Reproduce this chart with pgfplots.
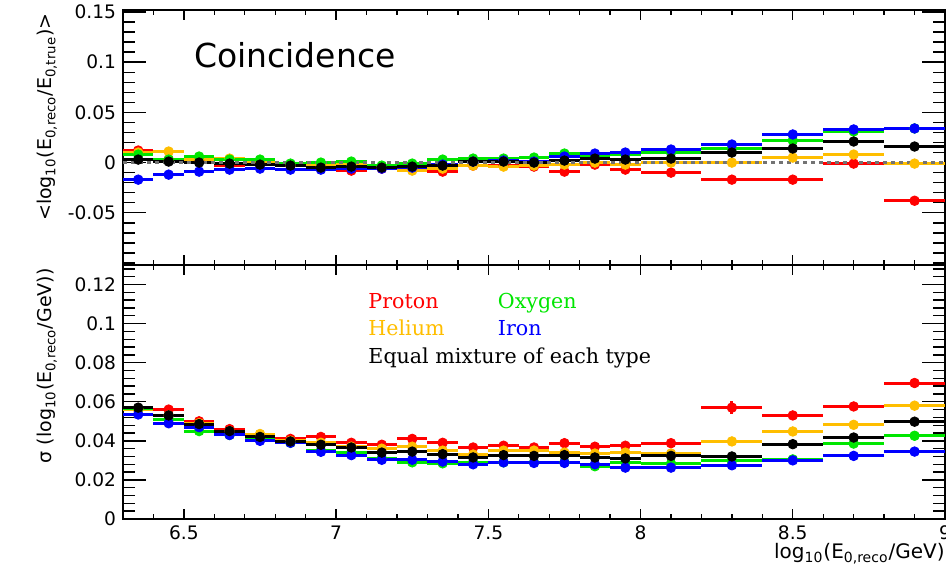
\documentclass[border=0pt]{standalone}
\usepackage{pgfplots}
\pgfplotsset{compat=1.18}
\usepackage{pgfplotstable}
\usepackage{fontspec}
\setmainfont{DejaVu Sans}
\newfontfamily\legfont{DejaVu Serif}
\definecolor{cP}{RGB}{255,0,0}
\definecolor{cHe}{RGB}{255,190,0}
\definecolor{cO}{RGB}{0,230,0}
\definecolor{cFe}{RGB}{0,0,255}

\pgfplotstableread{
x    ex   P      Pe     He     Hee    O      Oe     Fe     Fee    M      Me
6.35 0.05  0.012 0.001  0.010 0.001  0.008 0.001 -0.017 0.001  0.003 0.001
6.45 0.05  0.003 0.001  0.011 0.001  0.003 0.001 -0.012 0.001  0.001 0.001
6.55 0.05  0.002 0.001  0.003 0.001  0.006 0.001 -0.009 0.001  0.000 0.001
6.65 0.05 -0.003 0.001  0.004 0.001  0.003 0.001 -0.007 0.001 -0.001 0.001
6.75 0.05 -0.002 0.001  0.000 0.001  0.003 0.001 -0.006 0.001 -0.002 0.001
6.85 0.05 -0.003 0.001 -0.003 0.001 -0.001 0.001 -0.007 0.001 -0.003 0.001
6.95 0.05 -0.004 0.001 -0.002 0.001  0.000 0.001 -0.007 0.001 -0.005 0.001
7.05 0.05 -0.008 0.001 -0.002 0.001  0.001 0.001 -0.006 0.001 -0.004 0.001
7.15 0.05 -0.006 0.001 -0.004 0.001 -0.003 0.001 -0.006 0.001 -0.005 0.001
7.25 0.05 -0.006 0.001 -0.008 0.001 -0.001 0.001 -0.005 0.001 -0.004 0.001
7.35 0.05 -0.009 0.001 -0.006 0.001  0.003 0.001 -0.002 0.001 -0.003 0.001
7.45 0.05 -0.003 0.001 -0.003 0.001  0.004 0.001  0.001 0.001  0.001 0.001
7.55 0.05 -0.003 0.001 -0.004 0.001  0.004 0.001  0.002 0.001  0.001 0.001
7.65 0.05 -0.004 0.001 -0.003 0.001  0.005 0.001  0.001 0.001  0.000 0.001
7.75 0.05 -0.009 0.001 -0.002 0.001  0.009 0.001  0.006 0.001  0.002 0.001
7.85 0.05 -0.002 0.001  0.000 0.001  0.006 0.001  0.009 0.001  0.004 0.001
7.95 0.05 -0.007 0.001 -0.002 0.001  0.008 0.001  0.010 0.001  0.003 0.001
8.1  0.1  -0.010 0.001  0.000 0.001  0.010 0.001  0.013 0.001  0.004 0.001
8.3  0.1  -0.017 0.002  0.000 0.002  0.014 0.002  0.018 0.002  0.010 0.002
8.5  0.1  -0.017 0.002  0.005 0.002  0.022 0.002  0.028 0.002  0.014 0.002
8.7  0.1  -0.001 0.002  0.008 0.002  0.031 0.002  0.033 0.002  0.021 0.002
8.9  0.1  -0.038 0.002 -0.001 0.002  0.034 0.002  0.034 0.002  0.016 0.002
}\topdata

\pgfplotstableread{
x    ex   P      Pe     He     Hee    O      Oe     Fe     Fee    M      Me
6.35 0.05 0.0560 0.001 0.0560 0.001 0.0565 0.001 0.0535 0.001 0.0570 0.001
6.45 0.05 0.0560 0.001 0.0530 0.001 0.0510 0.001 0.0490 0.001 0.0530 0.001
6.55 0.05 0.0500 0.001 0.0490 0.001 0.0450 0.001 0.0470 0.001 0.0486 0.001
6.65 0.05 0.0460 0.001 0.0450 0.001 0.0430 0.001 0.0430 0.001 0.0450 0.001
6.75 0.05 0.0415 0.001 0.0435 0.001 0.0410 0.001 0.0400 0.001 0.0420 0.001
6.85 0.05 0.0410 0.001 0.0400 0.001 0.0390 0.001 0.0390 0.001 0.0397 0.001
6.95 0.05 0.0420 0.001 0.0390 0.001 0.0350 0.001 0.0344 0.001 0.0380 0.001
7.05 0.05 0.0390 0.001 0.0370 0.001 0.0340 0.001 0.0327 0.001 0.0366 0.001
7.15 0.05 0.0380 0.001 0.0360 0.001 0.0310 0.001 0.0303 0.001 0.0340 0.001
7.25 0.05 0.0410 0.001 0.0370 0.001 0.0290 0.001 0.0303 0.001 0.0345 0.001
7.35 0.05 0.0390 0.001 0.0350 0.001 0.0285 0.001 0.0294 0.001 0.0332 0.001
7.45 0.05 0.0366 0.001 0.0330 0.001 0.0290 0.001 0.0280 0.001 0.0315 0.001
7.55 0.05 0.0375 0.001 0.0350 0.001 0.0290 0.001 0.0290 0.001 0.0327 0.001
7.65 0.05 0.0366 0.001 0.0350 0.001 0.0290 0.001 0.0287 0.001 0.0323 0.001
7.75 0.05 0.0388 0.001 0.0340 0.001 0.0290 0.001 0.0287 0.001 0.0327 0.001
7.85 0.05 0.0370 0.001 0.0335 0.001 0.0270 0.001 0.0280 0.001 0.0315 0.001
7.95 0.05 0.0375 0.001 0.0340 0.001 0.0290 0.001 0.0263 0.001 0.0310 0.001
8.1  0.1  0.0388 0.001 0.0335 0.001 0.0284 0.001 0.0263 0.001 0.0323 0.001
8.3  0.1  0.0570 0.0035 0.0397 0.001 0.0298 0.001 0.0275 0.001 0.0320 0.001
8.5  0.1  0.0530 0.0015 0.0448 0.001 0.0305 0.001 0.0300 0.001 0.0383 0.001
8.7  0.1  0.0576 0.0015 0.0482 0.001 0.0386 0.001 0.0323 0.001 0.0417 0.001
8.9  0.1  0.0696 0.002 0.0580 0.001 0.0426 0.001 0.0345 0.001 0.0498 0.001
}\botdata

\pgfplotsset{
  ros/.style={only marks, mark=*, mark size=2.4pt,
    error bars/.cd, x dir=both, x explicit, y dir=both, y explicit,
    error mark=none, error bar style={line width=1.5pt}},
  common/.style={
    scale only axis, width=411pt, xmin=6.3, xmax=9,
    axis line style={line width=0.9pt},
    tick style={black, line width=0.7pt},
    tick pos=both, tick align=inside,
    xtick={6.5,7,7.5,8,8.5,9},
    minor xtick={6.3,6.4,...,9.0},
    xtick style={/pgfplots/major tick length=5pt,/pgfplots/minor tick length=2.5pt},
    ytick style={/pgfplots/major tick length=11.5pt,/pgfplots/minor tick length=6pt},
    ticklabel style={font=\fontsize{9.3}{11}\selectfont},
    label style={font=\fontsize{9.5}{11}\selectfont},
    ylabel style={at={(rel axis cs:-0.08,0.988)}, anchor=south east, inner sep=0pt},
  },
}

\begin{document}
\begin{tikzpicture}
\begin{axis}[common, name=bot, at={(0pt,0pt)}, anchor=south west, height=127pt,
  ymin=0, ymax=0.13,
  ytick={0,0.02,0.04,0.06,0.08,0.1,0.12},
  yticklabels={0,0.02,0.04,0.06,0.08,0.1,0.12},
  minor ytick={0,0.004,...,0.128},
  xticklabels={6.5,7,7.5,8,8.5,9},
  xlabel={log\textsubscript{10}(E\textsubscript{0,reco}/GeV)},
  xlabel style={at={(rel axis cs:1,-0.0945)}, anchor=north east, inner sep=0pt, font=\fontsize{10}{12}\selectfont},
  ylabel={σ (log\textsubscript{10}(E\textsubscript{0,reco}/GeV))},
]
\addplot[cP, ros] table[x=x, y=P, x error=ex, y error=Pe] {\botdata};
\addplot[cHe, ros] table[x=x, y=He, x error=ex, y error=Hee] {\botdata};
\addplot[cO, ros] table[x=x, y=O, x error=ex, y error=Oe] {\botdata};
\addplot[cFe, ros] table[x=x, y=Fe, x error=ex, y error=Fee] {\botdata};
\addplot[black, ros] table[x=x, y=M, x error=ex, y error=Me] {\botdata};
\node[anchor=base west, inner sep=0pt, text=cP, font=\legfont\fontsize{10.3}{12}\selectfont] at (axis cs:7.105,0.1077) {Proton};
\node[anchor=base west, inner sep=0pt, text=cO, font=\legfont\fontsize{10.3}{12}\selectfont] at (axis cs:7.53,0.1077) {Oxygen};
\node[anchor=base west, inner sep=0pt, text=cHe, font=\legfont\fontsize{10.3}{12}\selectfont] at (axis cs:7.105,0.0939) {Helium};
\node[anchor=base west, inner sep=0pt, text=cFe, font=\legfont\fontsize{10.3}{12}\selectfont] at (axis cs:7.53,0.0939) {Iron};
\node[anchor=base west, inner sep=0pt, text=black, font=\legfont\fontsize{10.3}{12}\selectfont] at (axis cs:7.105,0.0795) {Equal mixture of each type};
\end{axis}

\begin{axis}[common, at={(0pt,127pt)}, anchor=south west, height=127.5pt,
  ymin=-0.102, ymax=0.152,
  ytick={-0.05,0,0.05,0.1,0.15},
  yticklabels={-0.05,0,0.05,0.1,0.15},
  minor ytick={-0.1,-0.09,...,0.15},
  xticklabels=\empty,
  ylabel={<log\textsubscript{10}(E\textsubscript{0,reco}/E\textsubscript{0,true})>},
]
\addplot[cP, ros] table[x=x, y=P, x error=ex, y error=Pe] {\topdata};
\addplot[cHe, ros] table[x=x, y=He, x error=ex, y error=Hee] {\topdata};
\addplot[cO, ros] table[x=x, y=O, x error=ex, y error=Oe] {\topdata};
\addplot[cFe, ros] table[x=x, y=Fe, x error=ex, y error=Fee] {\topdata};
\addplot[black, ros] table[x=x, y=M, x error=ex, y error=Me] {\topdata};
\addplot[black!55, line width=1.3pt, dash pattern=on 2pt off 2pt] coordinates {(6.3,0) (9,0)};
\node[anchor=base west, inner sep=0pt, font=\fontsize{16.5}{19}\selectfont] at (axis cs:6.533,0.095) {Coincidence};
\end{axis}
\pgfresetboundingbox
\useasboundingbox (-61.5pt,-23.5pt) rectangle (411.5pt,259.5pt);
\end{tikzpicture}
\end{document}
